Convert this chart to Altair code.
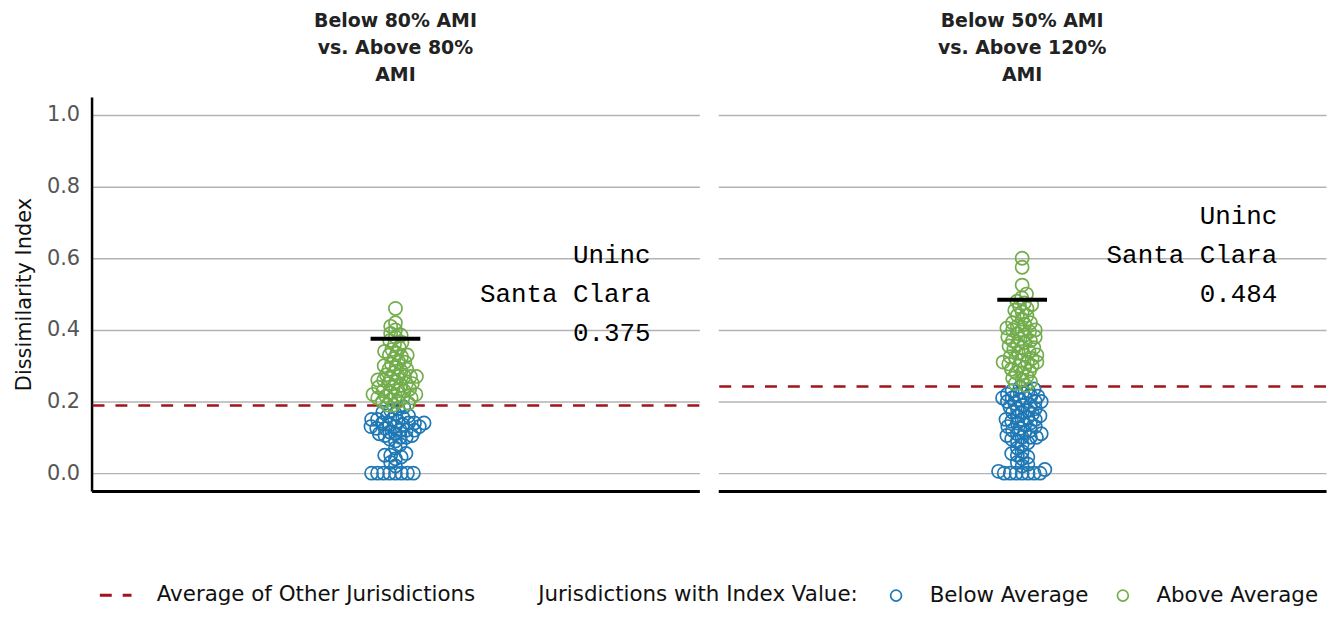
import math
import altair as alt
import pandas as pd

# ---------------- data ----------------
panel_titles = [
    ["Below 80% AMI", "vs. Above 80%", "AMI"],
    ["Below 50% AMI", "vs. Above 120%", "AMI"],
]

left_values = [
    0, 0, 0, 0, 0, 0, 0, 0,
    0.02, 0.03, 0.04, 0.045, 0.05, 0.05, 0.055, 0.07, 0.08, 0.09, 0.095,
    0.10, 0.10, 0.105, 0.11, 0.11, 0.115, 0.12, 0.12, 0.12, 0.125, 0.13,
    0.13, 0.13, 0.135, 0.135, 0.14, 0.14, 0.14, 0.14, 0.145, 0.15, 0.15,
    0.155, 0.16, 0.16, 0.165, 0.17, 0.175, 0.18, 0.185, 0.105, 0.125, 0.15,
    0.19, 0.19, 0.195, 0.20, 0.20, 0.205, 0.21, 0.21, 0.215, 0.215, 0.22,
    0.22, 0.225, 0.23, 0.23, 0.235, 0.24, 0.24, 0.245, 0.25, 0.25, 0.255,
    0.26, 0.26, 0.265, 0.27, 0.27, 0.27, 0.275, 0.28, 0.285, 0.29, 0.295,
    0.30, 0.305, 0.31, 0.32, 0.325, 0.33, 0.335, 0.34, 0.345, 0.35, 0.36,
    0.365, 0.37, 0.38, 0.385, 0.39, 0.40, 0.41, 0.42, 0.46,
    0.21, 0.23, 0.25, 0.27, 0.29, 0.31, 0.33,
]

right_values = [
    0, 0, 0, 0, 0, 0, 0, 0.005, 0.01,
    0.02, 0.025, 0.03, 0.04, 0.045, 0.05, 0.055, 0.06, 0.07, 0.08, 0.085,
    0.09, 0.095, 0.10, 0.10, 0.10, 0.105, 0.11, 0.11, 0.115, 0.12, 0.12,
    0.125, 0.13, 0.13, 0.135, 0.14, 0.14, 0.145, 0.15, 0.15, 0.15, 0.155,
    0.16, 0.16, 0.165, 0.17, 0.17, 0.175, 0.18, 0.18, 0.185, 0.19, 0.19,
    0.195, 0.20, 0.20, 0.20, 0.205, 0.21, 0.21, 0.21, 0.215, 0.215, 0.22,
    0.22, 0.225, 0.23, 0.23, 0.235, 0.24,
    0.245, 0.25, 0.255, 0.26, 0.265, 0.27, 0.28, 0.28, 0.285, 0.29, 0.295,
    0.30, 0.30, 0.305, 0.31, 0.31, 0.31, 0.315, 0.32, 0.32, 0.325, 0.33,
    0.33, 0.335, 0.34, 0.345, 0.35, 0.35, 0.355, 0.36, 0.365, 0.37, 0.37,
    0.375, 0.38, 0.38, 0.385, 0.39, 0.395, 0.40, 0.40, 0.40, 0.405, 0.41,
    0.415, 0.42, 0.42, 0.43, 0.44, 0.44, 0.45, 0.455, 0.46, 0.465, 0.47,
    0.475, 0.48, 0.49, 0.50, 0.525, 0.575, 0.60,
]

averages = [0.189, 0.242]
subject_values = [0.375, 0.484]
subject_name = ["Uninc", "Santa Clara"]
group_labels = ["Below Average", "Above Average"]
avg_label = "Average of Other Jurisdictions"
y_ticks = [0.0, 0.2, 0.4, 0.6, 0.8, 1.0]

# ---------------- style ----------------
BLUE = "#1f78b4"
GREEN = "#72ad4c"
RED = "#a0151b"
W = 611
H = 396
Y_DOMAIN = [-0.05, 1.05]
FONT = "DejaVu Sans"
LINE_H = 39


def swarm(values, d=6.0):
    """Beeswarm offsets (in px) computed from the values."""
    px_per_unit = H / (Y_DOMAIN[1] - Y_DOMAIN[0])
    order = sorted(range(len(values)), key=lambda k: values[k])
    xs = [0.0] * len(values)
    placed = []
    flip = 1
    for k in order:
        y = values[k] * px_per_unit
        cands = [0.0]
        for (px, py) in placed:
            dy = y - py
            if abs(dy) < d:
                dx = math.sqrt(d * d - dy * dy)
                cands += [px + dx, px - dx]
        flip = -flip
        cands.sort(key=lambda c: (round(abs(c), 6), flip * c))
        for c in cands:
            if all((c - px) ** 2 + (y - py) ** 2 >= d * d - 1e-6 for px, py in placed):
                xs[k] = c
                break
        placed.append((xs[k], y))
    return xs


def panel(idx, vals, show_axis):
    avg = averages[idx]
    df = pd.DataFrame({
        "value": vals,
        "offset": swarm(vals),
        "group": [group_labels[1] if v > avg else group_labels[0] for v in vals],
    })
    avg_df = pd.DataFrame({"value": [avg], "label": [avg_label]})
    subj_df = pd.DataFrame({"value": [subject_values[idx]], "offset": [0.0]})
    txt_df = pd.DataFrame({
        "value": [subject_values[idx] + 0.125],
        "label": ["\n".join(subject_name + [f"{subject_values[idx]:.3f}"])],
    })

    if show_axis:
        y_axis = alt.Axis(values=y_ticks, format=".1f", title="Dissimilarity Index",
                          grid=True, ticks=False, tickSize=0, domain=True,
                          domainColor="black", domainWidth=2.5,
                          labelPadding=12, titlePadding=12)
    else:
        y_axis = alt.Axis(values=y_ticks, labels=False, ticks=False, tickSize=0,
                          domain=False, title=None, grid=True)

    yscale = alt.Scale(domain=Y_DOMAIN, nice=False, zero=False)
    xscale = alt.Scale(domain=[-W / 2, W / 2], nice=False, zero=False)
    x_axis = alt.Axis(labels=False, ticks=False, grid=False, title=None,
                      domainColor="black", domainWidth=3)

    def Y(field="value:Q"):
        return alt.Y(field, scale=yscale, axis=y_axis)

    points = alt.Chart(df).mark_point(filled=False, shape="circle", size=175,
                                      strokeWidth=1.7, opacity=1).encode(
        x=alt.X("offset:Q", scale=xscale, axis=x_axis),
        y=Y(),
        color=alt.Color("group:N",
                        scale=alt.Scale(domain=group_labels, range=[BLUE, GREEN]),
                        legend=alt.Legend(title="Jurisdictions with Index Value:",
                                          orient="none", legendX=449, legendY=490,
                                          direction="horizontal",
                                          titleOrient="left", symbolType="circle",
                                          symbolSize=120, symbolStrokeWidth=1.7,
                                          labelFontSize=21.5, titleFontSize=21.5,
                                          titleFontWeight="normal", titleColor="#111",
                                          labelColor="#111", columnPadding=23,
                                          labelOffset=23, titlePadding=27,
                                          labelLimit=0, titleLimit=0,
                                          labelFont=FONT, titleFont=FONT)),
    )

    rule = alt.Chart(avg_df).mark_rule(color=RED, strokeWidth=2.5).encode(
        y=Y(),
        strokeDash=alt.StrokeDash("label:N",
                                  scale=alt.Scale(domain=[avg_label], range=[[12, 11]]),
                                  legend=alt.Legend(title=None, orient="none",
                                                    legendX=13.5, legendY=490,
                                                    symbolType="M-2.9,0L2.9,0",
                                                    symbolSize=121,
                                                    symbolStrokeWidth=3,
                                                    symbolStrokeColor=RED,
                                                    symbolFillColor="transparent",
                                                    symbolDash=[11, 10],
                                                    labelFontSize=21.5, labelColor="#111",
                                                    labelOffset=30.5, labelLimit=0,
                                                    labelFont=FONT)),
    )

    tick = alt.Chart(subj_df).mark_tick(orient="horizontal", size=50, thickness=4,
                                        color="black", opacity=1).encode(
        x=alt.X("offset:Q", scale=xscale, axis=x_axis),
        y=Y(),
    )

    text = alt.Chart(txt_df).mark_text(font="Liberation Mono", fontSize=26,
                                       align="right", baseline="middle",
                                       lineBreak="\n", lineHeight=LINE_H, dy=-LINE_H,
                                       color="black").encode(
        x=alt.value(562),
        y=Y(),
        text="label:N",
    )

    return alt.layer(rule, points, tick, text).properties(
        width=W, height=H,
        title=alt.TitleParams(text=panel_titles[idx], fontSize=19, font=FONT,
                              fontWeight="bold", anchor="middle", lineHeight=27,
                              offset=12, color="#222"),
    )


chart = alt.hconcat(
    panel(0, left_values, True),
    panel(1, right_values, False),
    spacing=15,
).properties(
    padding={"left": 5, "top": 3, "right": 5, "bottom": 0},
).configure_view(
    stroke=None,
).configure_axis(
    labelFont=FONT, labelFontSize=21, labelColor="#555",
    titleFont=FONT, titleFontSize=21, titleFontWeight="normal", titleColor="#111",
    gridColor="#b3b3b3", gridWidth=1.5,
)

chart.save("out.html", embed_options={"renderer": "svg", "actions": False})
